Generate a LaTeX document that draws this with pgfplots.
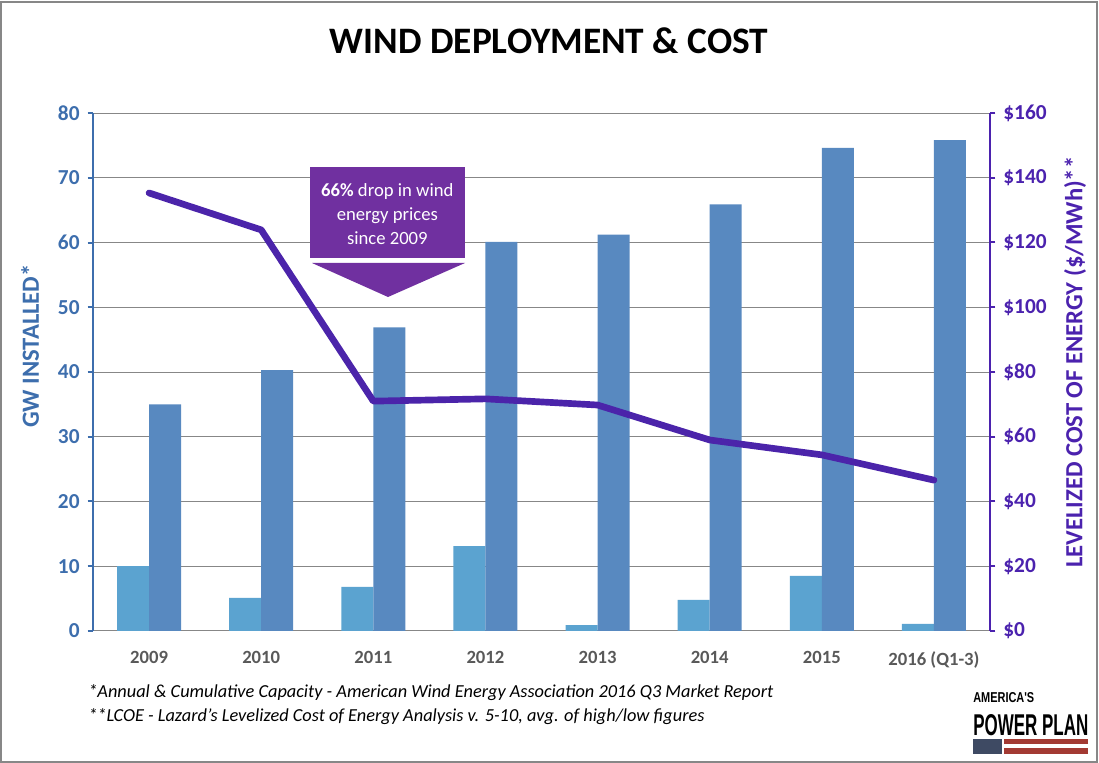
\documentclass[border=0pt]{standalone}
\usepackage{fontspec}
\setmainfont{Carlito}
\newfontfamily\logofont{Liberation Sans}
\usepackage{graphicx}
\usepackage{pgfplots}
\usepackage{pgfplotstable}
\pgfplotsset{compat=1.18}

\definecolor{annual}{HTML}{5BA3D0}
\definecolor{cumul}{HTML}{5889C0}
\definecolor{lcoe}{HTML}{4B24AA}
\definecolor{leftblue}{HTML}{3D6EAD}
\definecolor{rightpurple}{HTML}{4B22AE}
\definecolor{callout}{HTML}{7030A0}
\definecolor{gridgray}{HTML}{878787}
\definecolor{xlab}{HTML}{595959}
\definecolor{slate}{HTML}{3E4A63}
\definecolor{flagred}{HTML}{A33A33}

% annual GW, cumulative GW, LCOE $/MWh
\pgfplotstableread{
x annual cumulative lcoe
0 10.0 35.0 135.3
1  5.1 40.3 123.9
2  6.8 46.9  71.0
3 13.1 60.1  71.7
4  0.9 61.2  69.8
5  4.8 65.9  59.0
6  8.5 74.6  54.4
7  1.1 75.8  46.6
}\winddata

\begin{document}
\begin{tikzpicture}
\useasboundingbox (0,0) rectangle (824.25pt,572.25pt);
\draw[gridgray, line width=1.5pt] (1.1pt,1.1pt) rectangle (823pt,571pt);

\pgfplotsset{
  common/.style={
    at={(69.75pt,99pt)}, anchor=south west,
    scale only axis, width=672.75pt, height=388.5pt,
    xmin=-0.5, xmax=7.5,
    tick align=outside, major tick length=4pt,
    /pgf/number format/assume math mode=true,
  },
}

\begin{axis}[
  common,
  ymin=0, ymax=80, ytick={0,10,...,80},
  ybar=0pt, bar width=24pt,
  xtick={0,...,7},
  xticklabels={2009,2010,2011,2012,2013,2014,2015,2016 (Q1-3)},
  axis x line*=bottom, axis y line*=left,
  ymajorgrids, major grid style={gridgray, line width=0.75pt},
  x axis line style={gridgray, line width=0.75pt, -},
  y axis line style={leftblue, line width=1.5pt, -},
  ytick style={leftblue, line width=1.5pt},
  xtick style={draw=none},
  yticklabel style={font=\fontsize{16}{18}\selectfont\bfseries, text=leftblue, xshift=-2.5pt},
  xticklabel style={font=\fontsize{14}{16}\selectfont\bfseries, text=xlab, yshift=-8pt},
  ylabel={GW INSTALLED*},
  every axis y label/.style={at={(axis description cs:-0.0702,0.55)}, rotate=90, anchor=center,
    font=\fontsize{18.5}{20}\selectfont\bfseries, text=leftblue},
]
\addplot[fill=annual, draw=none] table[x=x, y=annual] {\winddata};
\addplot[fill=cumul, draw=none] table[x=x, y=cumulative] {\winddata};
\end{axis}

\begin{axis}[
  common,
  ymin=0, ymax=160, ytick={0,20,...,160},
  axis x line=none, axis y line*=right,
  yticklabel={\$\pgfmathprintnumber{\tick}},
  y axis line style={rightpurple, line width=1.5pt, -},
  ytick style={rightpurple, line width=1.5pt},
  yticklabel style={font=\fontsize{16}{18}\selectfont\bfseries, text=rightpurple, xshift=2.5pt},
  ylabel={LEVELIZED COST OF ENERGY (\$/MWh)**},
  every axis y label/.style={at={(axis description cs:1.0948,0.519)}, rotate=90, anchor=center,
    font=\fontsize{18.5}{20}\selectfont\bfseries, text=rightpurple},
]
\addplot[lcoe, line width=5pt, line cap=round, line join=round, no markers]
  table[x=x, y=lcoe] {\winddata};
\end{axis}

% title
\node[font=\fontsize{28}{32}\selectfont\bfseries] at (411.75pt,541.9pt) {WIND DEPLOYMENT \& COST};

% callout
\fill[callout] (232.5pt,378.75pt) rectangle (348.75pt,447pt);
\fill[callout] (234pt,375pt) -- (348.75pt,375pt) -- (291pt,349.5pt) -- cycle;
\node[text=white, align=center, font=\fontsize{14}{18}\selectfont] at (290.5pt,412pt)
  {\textbf{66\%} drop in wind\\energy prices\\since 2009};

% footnotes
\node[anchor=west, font=\fontsize{13.75}{15}\selectfont\itshape, inner sep=0pt] at (66pt,52.5pt)
  {*Annual \& Cumulative Capacity - American Wind Energy Association 2016 Q3 Market Report};
\node[anchor=west, font=\fontsize{13.75}{15}\selectfont\itshape, inner sep=0pt] at (66pt,34.5pt)
  {**LCOE - Lazard's Levelized Cost of Energy Analysis v. 5-10, avg. of high/low figures};

% logo
\node[anchor=south west, inner sep=0pt] at (729.75pt,45pt)
  {\resizebox{45.75pt}{7.5pt}{\logofont\bfseries AMERICA'S}};
\node[anchor=south west, inner sep=0pt] at (729.75pt,20.25pt)
  {\resizebox{86.25pt}{15.75pt}{\logofont\bfseries POWER PLAN}};
\fill[slate] (729.75pt,6.75pt) rectangle (751.5pt,18pt);
\fill[flagred] (753pt,14.25pt) rectangle (816pt,18pt);
\fill[flagred] (753pt,6.75pt) rectangle (816pt,11.25pt);
\end{tikzpicture}
\end{document}
